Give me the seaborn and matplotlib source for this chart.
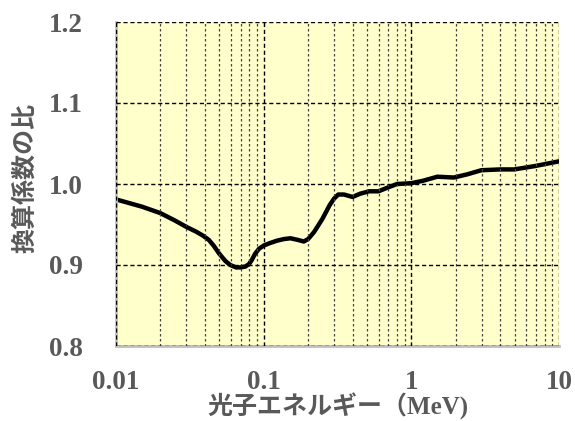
import numpy as np
import pandas as pd
import matplotlib
matplotlib.use("Agg")
import matplotlib.pyplot as plt
import seaborn as sns
from matplotlib.ticker import FixedLocator, LogLocator, NullFormatter, FixedFormatter

energy = [0.01, 0.015, 0.02, 0.025, 0.03, 0.035, 0.039, 0.0425, 0.0458, 0.05, 0.055,
          0.0594, 0.065, 0.0695, 0.075, 0.0794, 0.083, 0.0876, 0.093, 0.1,
          0.11, 0.123, 0.137, 0.152, 0.17, 0.187, 0.2, 0.22, 0.25, 0.28,
          0.30, 0.32, 0.35, 0.40, 0.45, 0.518, 0.60, 0.70,
          0.80, 1.0, 1.2, 1.5, 1.94, 2.4, 2.98, 4.0, 4.97, 6.8, 10.0]
ratio = [0.981, 0.972, 0.964, 0.955, 0.947, 0.941, 0.936, 0.931, 0.924, 0.914, 0.905,
         0.900, 0.897, 0.897, 0.898, 0.901, 0.906, 0.914, 0.920, 0.924,
         0.927, 0.930, 0.932, 0.933, 0.931, 0.929, 0.932, 0.941, 0.957, 0.974,
         0.982, 0.987, 0.987, 0.984, 0.988, 0.991, 0.991, 0.996,
         1.000, 1.001, 1.004, 1.009, 1.008, 1.012, 1.017, 1.018, 1.018, 1.022, 1.028]
x_ticks = [0.01, 0.1, 1, 10]
x_labels = ["0.01", "0.1", "1", "10"]
y_ticks = [0.8, 0.9, 1.0, 1.1, 1.2]
y_labels = ["0.8", "0.9", "1.0", "1.1", "1.2"]

df = pd.DataFrame({"energy": energy, "ratio": ratio})

sns.set_theme(style="white")
plt.rcParams['font.family'] = ['Liberation Serif', 'Noto Sans CJK JP']

fig = plt.figure(figsize=(5.75, 4.21), dpi=100)
ax = fig.add_axes([116/575, 1 - 346/421, (559-116)/575, (346-22)/421])
ax.set_facecolor("#FFFFCC")

sns.lineplot(data=df, x="energy", y="ratio", ax=ax, color="black",
             linewidth=3.2, solid_capstyle="round", solid_joinstyle="round")
ax.set_xscale("log")
ax.set_xlim(0.01, 10)
ax.set_ylim(0.8, 1.2)

ax.xaxis.set_major_locator(FixedLocator(x_ticks))
ax.xaxis.set_major_formatter(FixedFormatter(x_labels))
ax.xaxis.set_minor_locator(LogLocator(base=10, subs=np.arange(2, 10)))
ax.xaxis.set_minor_formatter(NullFormatter())
ax.yaxis.set_major_locator(FixedLocator(y_ticks))
ax.yaxis.set_major_formatter(FixedFormatter(y_labels))

ax.grid(which="major", axis="both", color="black", linestyle=(0, (3, 2)), linewidth=1.0)
ax.grid(which="minor", axis="x", color="#444444", linestyle=(0, (2, 2)), linewidth=0.9)
ax.set_axisbelow(False)

for s in ["top", "right"]:
    ax.spines[s].set_visible(False)
for s in ["left", "bottom"]:
    ax.spines[s].set_color("#BFBFBF")
    ax.spines[s].set_linewidth(2)

ax.tick_params(which="both", length=0)
ax.tick_params(axis="x", pad=17, labelsize=19.5, labelcolor="#595959")
ax.tick_params(axis="y", pad=24, labelsize=19.5, labelcolor="#595959")
for lab in ax.get_xticklabels() + ax.get_yticklabels():
    lab.set_fontweight("bold")

ax.set_xlabel("光子エネルギー（MeV)", fontsize=18, color="#595959", fontweight="bold",
              family=['Liberation Serif', 'Noto Sans CJK JP'], va="bottom")
ax.xaxis.set_label_coords(337.5/575, 1/421, transform=fig.transFigure)
ax.set_ylabel("換算係数の比", fontsize=18, color="#595959", fontweight="bold",
              family=['Noto Sans CJK JP', 'Liberation Serif'], va="center")
ax.yaxis.set_label_coords(25/575, 1 - 178/421, transform=fig.transFigure)

fig.savefig("out.png", dpi=100)
